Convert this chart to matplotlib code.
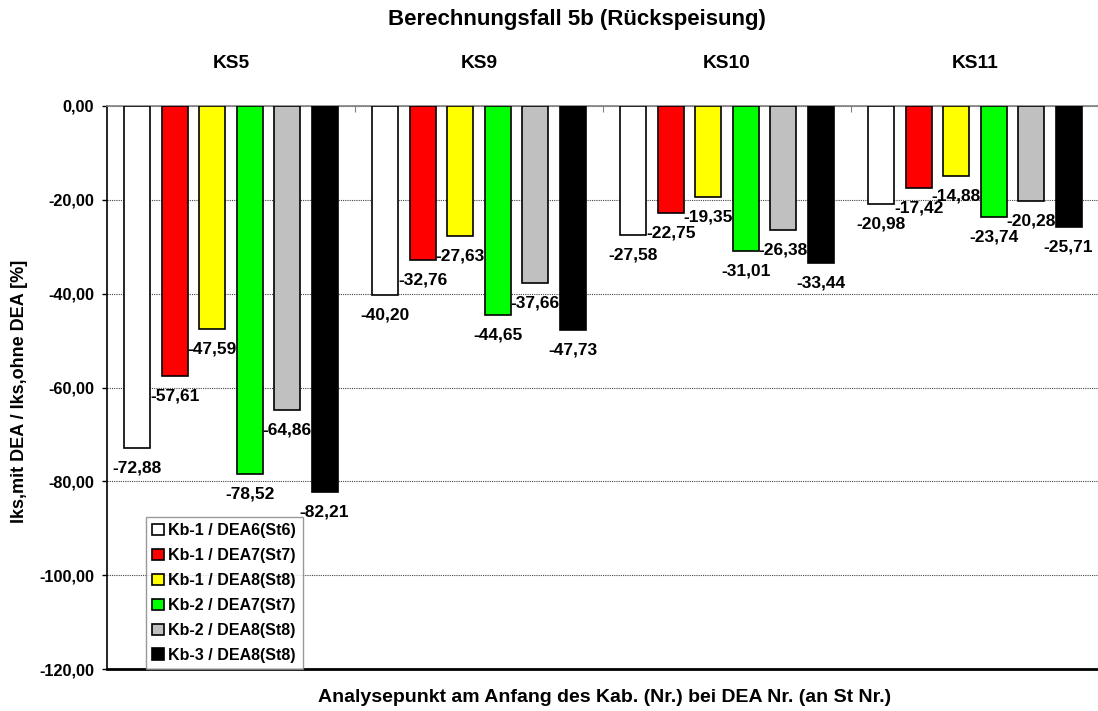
import matplotlib
matplotlib.use("Agg")
import matplotlib.pyplot as plt
import numpy as np

plt.rcParams['font.family'] = ['Liberation Sans', 'DejaVu Sans']
plt.rcParams['font.weight'] = 'bold'

# daten
groups = ['KS5', 'KS9', 'KS10', 'KS11']
series = ['Kb-1 / DEA6(St6)', 'Kb-1 / DEA7(St7)', 'Kb-1 / DEA8(St8)',
          'Kb-2 / DEA7(St7)', 'Kb-2 / DEA8(St8)', 'Kb-3 / DEA8(St8)']
kb1_dea6 = [-72.88, -40.20, -27.58, -20.98]
kb1_dea7 = [-57.61, -32.76, -22.75, -17.42]
kb1_dea8 = [-47.59, -27.63, -19.35, -14.88]
kb2_dea7 = [-78.52, -44.65, -31.01, -23.74]
kb2_dea8 = [-64.86, -37.66, -26.38, -20.28]
kb3_dea8 = [-82.21, -47.73, -33.44, -25.71]
values = [kb1_dea6, kb1_dea7, kb1_dea8, kb2_dea7, kb2_dea8, kb3_dea8]
yticks = [0, -20, -40, -60, -80, -100, -120]

colors = ['#FFFFFF', '#FF0000', '#FFFF00', '#00FF00', '#C0C0C0', '#000000']

fig = plt.figure(figsize=(10.98, 7.11), dpi=100)
ax = fig.add_axes([107/1098, 1-669/711, (1099-107)/1098, (669-106)/711])

x = np.arange(len(groups)) + 0.5
step = 0.151
width = 0.105

for j in range(len(series)):
    pos = x + (j - 2.5) * step
    bars = ax.bar(pos, values[j], width, color=colors[j], edgecolor='black',
                  linewidth=1.2, label=series[j], zorder=3)
    for b, v in zip(bars, values[j]):
        ax.annotate(f'{v:.2f}'.replace('.', ','),
                    (b.get_x() + b.get_width()/2, v),
                    xytext=(0, -20), textcoords='offset pixels',
                    ha='center', va='center', fontsize=12.5,
                    fontweight='bold', zorder=5)

ax.set_xlim(0, 4)
ax.set_ylim(-120, 0)
ax.set_yticks(yticks)
ax.set_yticklabels([f'{t:.2f}'.replace('.', ',') for t in yticks])
ax.tick_params(axis='y', direction='out', length=3.6, pad=5.5,
               labelsize=11.7, width=1)
ax.grid(axis='y', linestyle=(0, (1, 1)), color='#444444', linewidth=0.8, zorder=0)

ax.xaxis.tick_top()
ax.set_xticks([1, 2, 3])
ax.set_xticklabels([])
ax.tick_params(axis='x', direction='in', length=4, color='#808080')

for xi, g in zip(x, groups):
    ax.text(xi, 1.0 + 43/563, g, transform=ax.get_xaxis_transform(),
            ha='center', va='center', fontsize=13.8, fontweight='bold')

ax.spines['top'].set_color('#808080')
ax.spines['top'].set_linewidth(1.2)
ax.spines['bottom'].set_linewidth(2)
ax.spines['left'].set_linewidth(1.2)
ax.spines['right'].set_visible(False)

fig.text(577/1098, 1-20/711, 'Berechnungsfall 5b (Rückspeisung)',
         ha='center', va='center', fontsize=16, fontweight='bold')
fig.text(605/1098, 1-697/711,
         'Analysepunkt am Anfang des Kab. (Nr.) bei DEA Nr. (an St Nr.)',
         ha='center', va='center', fontsize=14, fontweight='bold')
fig.text(20/1098, 1-391/711, 'Iks,mit DEA / Iks,ohne DEA [%]',
         ha='center', va='center', rotation=90, fontsize=13, fontweight='bold')

leg = ax.legend(loc='lower left', bbox_to_anchor=((146-107)/992, 0),
                borderaxespad=0, fontsize=11.5, frameon=True, fancybox=False,
                handlelength=0.7, handleheight=0.7, handletextpad=0.3,
                labelspacing=0.62, borderpad=0.4)
leg.get_frame().set_edgecolor('#808080')
leg.get_frame().set_linewidth(1)
leg.set_zorder(6)

fig.savefig('out.png', dpi=100)
